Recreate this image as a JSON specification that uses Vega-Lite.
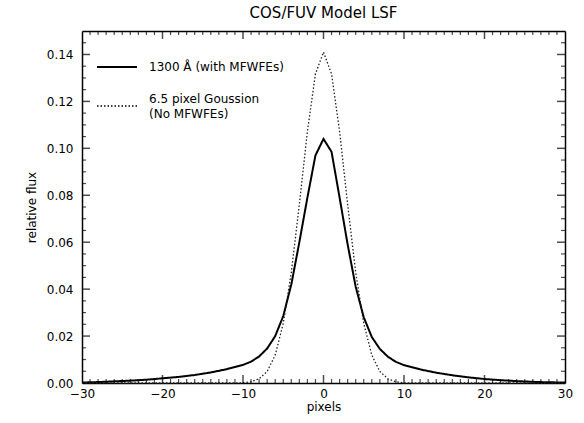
{
  "$schema": "https://vega.github.io/schema/vega-lite/v6.json",
  "width": 483,
  "height": 352,
  "autosize": {"type": "none"},
  "padding": {"left": 82, "top": 31, "right": 19, "bottom": 40},
  "background": "white",
  "title": {"text": "COS/FUV Model LSF", "fontSize": 15, "font": "DejaVu Sans", "fontWeight": "normal", "color": "black", "offset": 10, "anchor": "middle"},
  "config": {
    "view": {"stroke": null},
    "axis": {
      "domainColor": "black", "domainWidth": 1.5,
      "grid": false, "labelFont": "DejaVu Sans", "labelFontSize": 12, "labelColor": "black",
      "titleFont": "DejaVu Sans", "titleFontSize": 12, "titleFontWeight": "normal", "titleColor": "black",
      "labelFlush": false
    }
  },
  "datasets": {
    "solid": [
      {"x": -30, "flux": 0.0002, "series": "1300 Å (with MFWFEs)"},
      {"x": -28, "flux": 0.0004, "series": "1300 Å (with MFWFEs)"},
      {"x": -26, "flux": 0.0007, "series": "1300 Å (with MFWFEs)"},
      {"x": -24, "flux": 0.0010, "series": "1300 Å (with MFWFEs)"},
      {"x": -22, "flux": 0.0014, "series": "1300 Å (with MFWFEs)"},
      {"x": -20, "flux": 0.0020, "series": "1300 Å (with MFWFEs)"},
      {"x": -18, "flux": 0.0026, "series": "1300 Å (with MFWFEs)"},
      {"x": -16, "flux": 0.0034, "series": "1300 Å (with MFWFEs)"},
      {"x": -14, "flux": 0.0045, "series": "1300 Å (with MFWFEs)"},
      {"x": -12, "flux": 0.0059, "series": "1300 Å (with MFWFEs)"},
      {"x": -10, "flux": 0.0077, "series": "1300 Å (with MFWFEs)"},
      {"x": -9, "flux": 0.0091, "series": "1300 Å (with MFWFEs)"},
      {"x": -8, "flux": 0.0113, "series": "1300 Å (with MFWFEs)"},
      {"x": -7, "flux": 0.0147, "series": "1300 Å (with MFWFEs)"},
      {"x": -6, "flux": 0.0200, "series": "1300 Å (with MFWFEs)"},
      {"x": -5, "flux": 0.0285, "series": "1300 Å (with MFWFEs)"},
      {"x": -4, "flux": 0.0420, "series": "1300 Å (with MFWFEs)"},
      {"x": -3, "flux": 0.0600, "series": "1300 Å (with MFWFEs)"},
      {"x": -2, "flux": 0.0790, "series": "1300 Å (with MFWFEs)"},
      {"x": -1, "flux": 0.0970, "series": "1300 Å (with MFWFEs)"},
      {"x": 0, "flux": 0.1040, "series": "1300 Å (with MFWFEs)"},
      {"x": 1, "flux": 0.0985, "series": "1300 Å (with MFWFEs)"},
      {"x": 2, "flux": 0.0790, "series": "1300 Å (with MFWFEs)"},
      {"x": 3, "flux": 0.0590, "series": "1300 Å (with MFWFEs)"},
      {"x": 4, "flux": 0.0410, "series": "1300 Å (with MFWFEs)"},
      {"x": 5, "flux": 0.0280, "series": "1300 Å (with MFWFEs)"},
      {"x": 6, "flux": 0.0196, "series": "1300 Å (with MFWFEs)"},
      {"x": 7, "flux": 0.0145, "series": "1300 Å (with MFWFEs)"},
      {"x": 8, "flux": 0.0112, "series": "1300 Å (with MFWFEs)"},
      {"x": 9, "flux": 0.0090, "series": "1300 Å (with MFWFEs)"},
      {"x": 10, "flux": 0.0076, "series": "1300 Å (with MFWFEs)"},
      {"x": 12, "flux": 0.0058, "series": "1300 Å (with MFWFEs)"},
      {"x": 14, "flux": 0.0044, "series": "1300 Å (with MFWFEs)"},
      {"x": 16, "flux": 0.0033, "series": "1300 Å (with MFWFEs)"},
      {"x": 18, "flux": 0.0024, "series": "1300 Å (with MFWFEs)"},
      {"x": 20, "flux": 0.0017, "series": "1300 Å (with MFWFEs)"},
      {"x": 22, "flux": 0.0012, "series": "1300 Å (with MFWFEs)"},
      {"x": 24, "flux": 0.0008, "series": "1300 Å (with MFWFEs)"},
      {"x": 26, "flux": 0.0005, "series": "1300 Å (with MFWFEs)"},
      {"x": 28, "flux": 0.0003, "series": "1300 Å (with MFWFEs)"},
      {"x": 30, "flux": 0.0002, "series": "1300 Å (with MFWFEs)"}
    ],
    "gauss": [
      {"x": -30, "flux": 0.0, "series": "6.5 pixel Goussion (No MFWFEs)"},
      {"x": -20, "flux": 0.0, "series": "6.5 pixel Goussion (No MFWFEs)"},
      {"x": -11, "flux": 0.0, "series": "6.5 pixel Goussion (No MFWFEs)"},
      {"x": -10, "flux": 0.0001, "series": "6.5 pixel Goussion (No MFWFEs)"},
      {"x": -9, "flux": 0.0005, "series": "6.5 pixel Goussion (No MFWFEs)"},
      {"x": -8, "flux": 0.0018, "series": "6.5 pixel Goussion (No MFWFEs)"},
      {"x": -7, "flux": 0.0049, "series": "6.5 pixel Goussion (No MFWFEs)"},
      {"x": -6, "flux": 0.0119, "series": "6.5 pixel Goussion (No MFWFEs)"},
      {"x": -5, "flux": 0.0254, "series": "6.5 pixel Goussion (No MFWFEs)"},
      {"x": -4, "flux": 0.0471, "series": "6.5 pixel Goussion (No MFWFEs)"},
      {"x": -3, "flux": 0.0761, "series": "6.5 pixel Goussion (No MFWFEs)"},
      {"x": -2, "flux": 0.1072, "series": "6.5 pixel Goussion (No MFWFEs)"},
      {"x": -1, "flux": 0.1317, "series": "6.5 pixel Goussion (No MFWFEs)"},
      {"x": 0, "flux": 0.1410, "series": "6.5 pixel Goussion (No MFWFEs)"},
      {"x": 1, "flux": 0.1317, "series": "6.5 pixel Goussion (No MFWFEs)"},
      {"x": 2, "flux": 0.1072, "series": "6.5 pixel Goussion (No MFWFEs)"},
      {"x": 3, "flux": 0.0761, "series": "6.5 pixel Goussion (No MFWFEs)"},
      {"x": 4, "flux": 0.0471, "series": "6.5 pixel Goussion (No MFWFEs)"},
      {"x": 5, "flux": 0.0254, "series": "6.5 pixel Goussion (No MFWFEs)"},
      {"x": 6, "flux": 0.0119, "series": "6.5 pixel Goussion (No MFWFEs)"},
      {"x": 7, "flux": 0.0049, "series": "6.5 pixel Goussion (No MFWFEs)"},
      {"x": 8, "flux": 0.0018, "series": "6.5 pixel Goussion (No MFWFEs)"},
      {"x": 9, "flux": 0.0005, "series": "6.5 pixel Goussion (No MFWFEs)"},
      {"x": 10, "flux": 0.0001, "series": "6.5 pixel Goussion (No MFWFEs)"},
      {"x": 11, "flux": 0.0, "series": "6.5 pixel Goussion (No MFWFEs)"},
      {"x": 20, "flux": 0.0, "series": "6.5 pixel Goussion (No MFWFEs)"},
      {"x": 30, "flux": 0.0, "series": "6.5 pixel Goussion (No MFWFEs)"}
    ],
    "xmajor": [{"x": -20}, {"x": -10}, {"x": 0}, {"x": 10}, {"x": 20}],
    "xminor": [{"x": -29}, {"x": -28}, {"x": -27}, {"x": -26}, {"x": -25}, {"x": -24}, {"x": -23}, {"x": -22}, {"x": -21}, {"x": -19}, {"x": -18}, {"x": -17}, {"x": -16}, {"x": -15}, {"x": -14}, {"x": -13}, {"x": -12}, {"x": -11}, {"x": -9}, {"x": -8}, {"x": -7}, {"x": -6}, {"x": -5}, {"x": -4}, {"x": -3}, {"x": -2}, {"x": -1}, {"x": 1}, {"x": 2}, {"x": 3}, {"x": 4}, {"x": 5}, {"x": 6}, {"x": 7}, {"x": 8}, {"x": 9}, {"x": 11}, {"x": 12}, {"x": 13}, {"x": 14}, {"x": 15}, {"x": 16}, {"x": 17}, {"x": 18}, {"x": 19}, {"x": 21}, {"x": 22}, {"x": 23}, {"x": 24}, {"x": 25}, {"x": 26}, {"x": 27}, {"x": 28}, {"x": 29}],
    "ymajor": [{"flux": 0.02}, {"flux": 0.04}, {"flux": 0.06}, {"flux": 0.08}, {"flux": 0.1}, {"flux": 0.12}, {"flux": 0.14}],
    "yminor": [{"flux": 0.005}, {"flux": 0.01}, {"flux": 0.015}, {"flux": 0.025}, {"flux": 0.03}, {"flux": 0.035}, {"flux": 0.045}, {"flux": 0.05}, {"flux": 0.055}, {"flux": 0.065}, {"flux": 0.07}, {"flux": 0.075}, {"flux": 0.085}, {"flux": 0.09}, {"flux": 0.095}, {"flux": 0.105}, {"flux": 0.11}, {"flux": 0.115}, {"flux": 0.125}, {"flux": 0.13}, {"flux": 0.135}, {"flux": 0.145}]
  },
  "resolve": {"axis": {"x": "independent", "y": "independent"}},
  "layer": [
    {
      "data": {"name": "solid"},
      "mark": {"type": "line", "color": "black", "strokeWidth": 2},
      "encoding": {
        "x": {"field": "x", "type": "quantitative", "scale": {"domain": [-30, 30], "nice": false, "zero": false},
          "axis": {"orient": "bottom", "values": [-30, -20, -10, 0, 10, 20, 30], "ticks": false, "labelPadding": 5, "format": "d", "title": "pixels", "titlePadding": 2}},
        "y": {"field": "flux", "type": "quantitative", "scale": {"domain": [0, 0.15], "nice": false, "zero": false},
          "axis": {"orient": "left", "values": [0, 0.02, 0.04, 0.06, 0.08, 0.1, 0.12, 0.14], "ticks": false, "labelPadding": 9, "format": ".2f", "title": "relative flux", "titlePadding": 8}},
        "strokeDash": {"field": "series", "type": "nominal",
          "scale": {"domain": ["1300 Å (with MFWFEs)", "6.5 pixel Goussion (No MFWFEs)"], "range": [[1, 0], [1.5, 2]]},
          "legend": {"orient": "none", "legendX": 29, "legendY": 30, "title": null, "padding": 0,
            "symbolType": "stroke", "symbolSize": 1600, "symbolStrokeColor": "black", "symbolStrokeWidth": 2,
            "labelFont": "DejaVu Sans", "labelFontSize": 12, "labelColor": "black", "labelOffset": 26,
            "rowPadding": 20, "labelLimit": 300,
            "labelExpr": "datum.value == '6.5 pixel Goussion (No MFWFEs)' ? ['6.5 pixel Goussion', '(No MFWFEs)'] : datum.label",
            "encode": {"labels": {"update": {"lineHeight": {"value": 15}, "dy": {"signal": "datum.value == '6.5 pixel Goussion (No MFWFEs)' ? -7 : 0"}}}, "symbols": {"update": {"strokeWidth": {"signal": "datum.value == '6.5 pixel Goussion (No MFWFEs)' ? 1.3 : 2"}}}}}
        }
      }
    },
    {
      "data": {"name": "gauss"},
      "mark": {"type": "line", "color": "#222222", "strokeWidth": 1.3},
      "encoding": {
        "x": {"field": "x", "type": "quantitative", "axis": {"orient": "top", "values": [-30, 30], "ticks": false, "labels": false, "title": null}},
        "y": {"field": "flux", "type": "quantitative", "axis": {"orient": "right", "values": [0, 0.14], "ticks": false, "labels": false, "title": null}},
        "strokeDash": {"field": "series", "type": "nominal"}
      }
    },
    {
      "data": {"name": "xmajor"},
      "mark": {"type": "tick", "orient": "vertical", "color": "black", "size": 8, "thickness": 1.5, "yOffset": -4},
      "encoding": {"x": {"field": "x", "type": "quantitative", "axis": null}, "y": {"datum": 0, "type": "quantitative", "axis": null}}
    },
    {
      "data": {"name": "xmajor"},
      "mark": {"type": "tick", "orient": "vertical", "color": "black", "size": 8, "thickness": 1.5, "yOffset": 4},
      "encoding": {"x": {"field": "x", "type": "quantitative", "axis": null}, "y": {"datum": 0.15, "type": "quantitative", "axis": null}}
    },
    {
      "data": {"name": "xminor"},
      "mark": {"type": "tick", "orient": "vertical", "color": "black", "size": 4, "thickness": 1.2, "yOffset": -2},
      "encoding": {"x": {"field": "x", "type": "quantitative", "axis": null}, "y": {"datum": 0, "type": "quantitative", "axis": null}}
    },
    {
      "data": {"name": "xminor"},
      "mark": {"type": "tick", "orient": "vertical", "color": "black", "size": 4, "thickness": 1.2, "yOffset": 2},
      "encoding": {"x": {"field": "x", "type": "quantitative", "axis": null}, "y": {"datum": 0.15, "type": "quantitative", "axis": null}}
    },
    {
      "data": {"name": "ymajor"},
      "mark": {"type": "tick", "orient": "horizontal", "color": "black", "size": 8, "thickness": 1.5, "xOffset": 4},
      "encoding": {"y": {"field": "flux", "type": "quantitative", "axis": null}, "x": {"datum": -30, "type": "quantitative", "axis": null}}
    },
    {
      "data": {"name": "ymajor"},
      "mark": {"type": "tick", "orient": "horizontal", "color": "black", "size": 8, "thickness": 1.5, "xOffset": -4},
      "encoding": {"y": {"field": "flux", "type": "quantitative", "axis": null}, "x": {"datum": 30, "type": "quantitative", "axis": null}}
    },
    {
      "data": {"name": "yminor"},
      "mark": {"type": "tick", "orient": "horizontal", "color": "black", "size": 4, "thickness": 1.2, "xOffset": 2},
      "encoding": {"y": {"field": "flux", "type": "quantitative", "axis": null}, "x": {"datum": -30, "type": "quantitative", "axis": null}}
    },
    {
      "data": {"name": "yminor"},
      "mark": {"type": "tick", "orient": "horizontal", "color": "black", "size": 4, "thickness": 1.2, "xOffset": -2},
      "encoding": {"y": {"field": "flux", "type": "quantitative", "axis": null}, "x": {"datum": 30, "type": "quantitative", "axis": null}}
    }
  ]
}
